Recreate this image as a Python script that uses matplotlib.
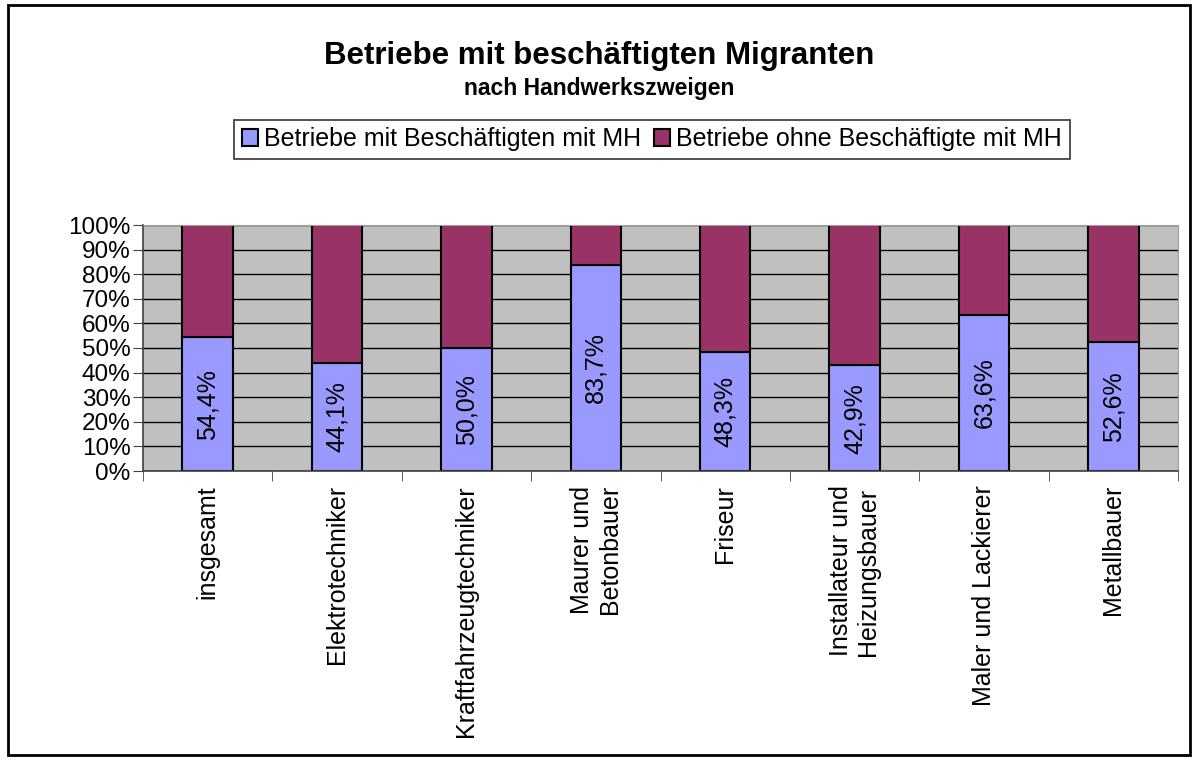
import matplotlib
matplotlib.use('Agg')
import matplotlib.pyplot as plt
import numpy as np
from matplotlib.patches import Rectangle

# Chart data
categories = ['insgesamt', 'Elektrotechniker', 'Kraftfahrzeugtechniker',
              'Maurer und\nBetonbauer', 'Friseur', 'Installateur und\nHeizungsbauer',
              'Maler und Lackierer', 'Metallbauer']
with_mh = [54.4, 44.1, 50.0, 83.7, 48.3, 42.9, 63.6, 52.6]
without_mh = [100 - v for v in with_mh]
series_names = ['Betriebe mit Beschäftigten mit MH', 'Betriebe ohne Beschäftigte mit MH']
y_ticks = [0, 10, 20, 30, 40, 50, 60, 70, 80, 90, 100]

plt.rcParams['font.family'] = ['Liberation Sans', 'DejaVu Sans']

fig = plt.figure(figsize=(11.99, 7.63), dpi=100)
ax = fig.add_axes([143 / 1199, 1 - 471 / 763, 1035 / 1199, 246 / 763])

x = np.arange(len(categories))
width = 0.39
ax.set_facecolor('#C0C0C0')
ax.set_axisbelow(True)
ax.grid(axis='y', color='black', linewidth=1)

b1 = ax.bar(x, with_mh, width, color='#9999FF', edgecolor='black', linewidth=1.5,
            label=series_names[0])
b2 = ax.bar(x, without_mh, width, bottom=with_mh, color='#993366', edgecolor='black',
            linewidth=1.5, label=series_names[1])

# Rotated value labels in the lower segment
for xi, v in zip(x, with_mh):
    ax.text(xi, v / 2, f'{v:.1f}%'.replace('.', ','), rotation=90,
            ha='center', va='center', fontsize=18)

ax.set_xlim(-0.5, len(categories) - 0.5)
ax.set_ylim(0, 100)
ax.set_yticks(y_ticks)
ax.set_yticklabels([f'{t}%' for t in y_ticks], fontsize=17.5)
ax.set_xticks(x)
ax.set_xticklabels(categories, rotation=90, fontsize=18, va='top', ha='center',
                   multialignment='left')
ax.set_xticks(np.arange(len(categories) + 1) - 0.5, minor=True)
ax.tick_params(axis='x', which='major', length=0, pad=10)
ax.tick_params(axis='x', which='minor', length=7, color='#404040')
ax.tick_params(axis='y', length=7, color='#404040', pad=2)

for side in ['top', 'right']:
    ax.spines[side].set_color('#A0A0A0')
for side in ['left', 'bottom']:
    ax.spines[side].set_color('#404040')
    ax.spines[side].set_linewidth(1.2)

fig.text(0.5, 1 - 56 / 763, 'Betriebe mit beschäftigten Migranten', ha='center',
         va='center', fontsize=22.5, fontweight='bold')
fig.text(0.5, 1 - 89 / 763, 'nach Handwerkszweigen', ha='center', va='center',
         fontsize=16.5, fontweight='bold')

leg = fig.legend(handles=[b1, b2], loc='center', bbox_to_anchor=(652 / 1199, 1 - 139 / 763),
                 ncol=2, fontsize=18, frameon=True, fancybox=False, handlelength=0.65,
                 handleheight=0.65, handletextpad=0.25, columnspacing=0.5,
                 borderpad=0.3, borderaxespad=0)
leg.get_frame().set_edgecolor('black')
leg.get_frame().set_linewidth(1.2)

fig.patches.append(Rectangle((8 / 1199, 8 / 763), 1182 / 1199, 750 / 763,
                             transform=fig.transFigure, fill=False,
                             edgecolor='black', linewidth=2))

fig.savefig('out.png', dpi=100)
